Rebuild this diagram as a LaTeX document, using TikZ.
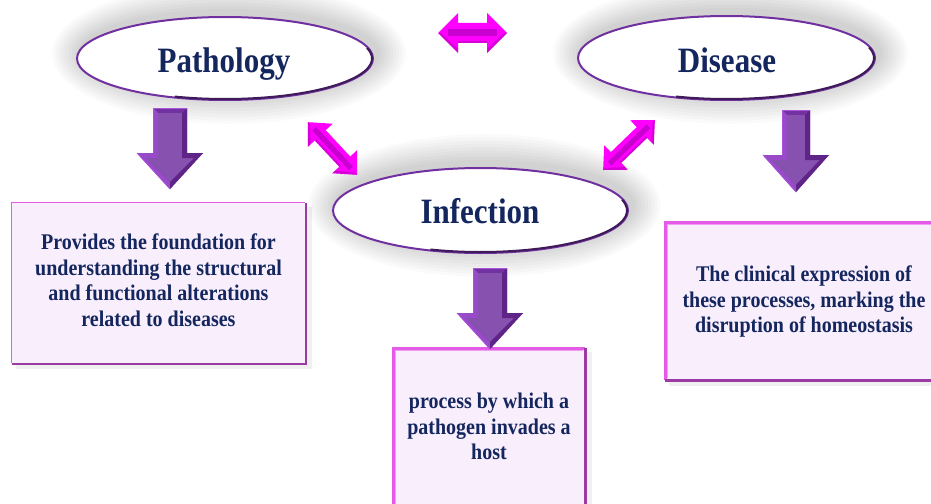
\documentclass[tikz,border=0pt]{standalone}
\usepackage{fontspec}
\usepackage{graphicx}
\setmainfont{Liberation Serif}
\usetikzlibrary{calc,shapes.geometric}
\definecolor{navy}{HTML}{14265E}
\definecolor{elline}{HTML}{7030A0}
\definecolor{boxfill}{HTML}{F9EEFC}
\definecolor{boxlight}{HTML}{E55BE8}
\definecolor{boxdark}{HTML}{9A3AA2}
\definecolor{arrpurple}{HTML}{7232A2}
\definecolor{arrlight}{HTML}{A855D8}
\definecolor{arrdark}{HTML}{5E2488}
\definecolor{mag}{HTML}{FF00FF}
\definecolor{magdark}{HTML}{C800D0}
\tikzset{
  ovalnode/.style={ellipse, fill=white, draw=elline, line width=2pt},
  titletext/.style={anchor=base, text=navy, font=\fontsize{31}{31}\selectfont\bfseries, inner sep=0pt},
  boxtext/.style={text=navy, font=\fontsize{20}{22.8}\selectfont\bfseries, inner sep=0pt, align=center},
  infobox/.style={rectangle, fill=boxfill, draw=none, inner sep=0pt},
}
\newcommand{\glowellipse}[3]{%
  \foreach \k in {1,...,9}{
    \fill[black, opacity=0.02] ($(#1)+(4pt,5pt)$) ellipse ({#2+\k*3.2pt} and {#3+\k*3.2pt});
  }}
% darker rim on lower right of an ellipse: cx, cy, rx, ry
\newcommand{\darkrim}[4]{%
  \draw[elline!55!black, line width=2pt] ({#1+#3*cos(15)},{#2-#4*sin(15)}) arc[start angle=15, end angle=-110, x radius=#3pt, y radius=#4pt];
}
\newcommand{\bevelbox}[4]{% x1,y1,x2,y2 (pixel coords, y down)
  \fill[black,opacity=0.06] (#1+4,#2+4) rectangle (#3+7,#4+6);
  \fill[boxfill] (#1,#2) rectangle (#3,#4);
  \draw[boxlight, line width=3pt] (#1,#4) -- (#1,#2) -- (#3,#2);
  \draw[boxdark, line width=3pt] (#3,#2) -- (#3,#4) -- (#1,#4);
  \draw[boxlight!60!white, line width=1pt] (#1+2.5,#4-2.5) -- (#1+2.5,#2+2.5) -- (#3-2.5,#2+2.5);
}
% down block arrow: cx, shaft half, head half, ytop, yhead, ytip
\newcommand{\blockdown}[6]{%
  \fill[arrpurple] (#1-#2,#4) -- (#1+#2,#4) -- (#1+#2,#5) -- (#1+#3,#5) -- (#1,#6) -- (#1-#3,#5) -- (#1-#2,#5) -- cycle;
  \fill[arrlight!70!arrpurple] (#1-#2,#4) -- (#1-#2+5,#4+5) -- (#1-#2+5,#5+5) -- (#1-#3+9,#5+5) -- (#1,#6-7) -- (#1,#6) -- (#1-#3,#5) -- (#1-#2,#5) -- cycle;
  \fill[arrpurple!85!white] (#1-#2+5,#4+5) -- (#1+#2-5,#4+5) -- (#1+#2-5,#5+5) -- (#1+#3-9,#5+5) -- (#1,#6-7) -- (#1-#3+9,#5+5) -- (#1-#2+5,#5+5) -- cycle;
  \fill[arrdark] (#1+#2,#4) -- (#1+#2,#5) -- (#1+#3,#5) -- (#1,#6) -- (#1,#6-7) -- (#1+#3-9,#5+5) -- (#1+#2-5,#5+5) -- (#1+#2-5,#4+5) -- cycle;
  \draw[arrlight, line width=0.8pt] (#1-#2,#5) -- (#1-#2,#4) -- (#1+#2,#4);
  \draw[arrlight, line width=0.8pt] (#1-#3,#5) -- (#1,#6);
}
% double block arrow centred at (cx,cy), rotated (canvas angle): half length, head length, head half, shaft half
\newcommand{\blockdouble}[7]{%
  \begin{scope}[shift={(#1,#2)}, rotate=#3]
    \fill[mag] (-#4,0) -- (-#4+#5,-#6) -- (-#4+#5,-#7) -- (#4-#5,-#7) -- (#4-#5,-#6) -- (#4,0) -- (#4-#5,#6) -- (#4-#5,#7) -- (-#4+#5,#7) -- (-#4+#5,#6) -- cycle;
    \fill[magdark] (-#4+#5*0.5,-#7*0.35) -- (#4-#5*0.5,-#7*0.35) -- (#4-#5*0.5,#7*0.35) -- (-#4+#5*0.5,#7*0.35) -- cycle;
    \fill[magdark!70!black, opacity=0.35] (-#4,0) -- (-#4+#5,#6) -- (-#4+#5,#7) -- (#4-#5,#7) -- (#4-#5,#6) -- (#4,0) -- (#4-3,0) -- (#4-#5,#6-4) -- (#4-#5,#7-2) -- (-#4+#5,#7-2) -- (-#4+#5,#6-4) -- (-#4+3,0) -- cycle;
  \end{scope}
}
\begin{document}
\begin{tikzpicture}[x=1pt, y=-1pt]
\useasboundingbox (0,0) rectangle (931,503);
\clip (0,0) rectangle (931,503);
\fill[white] (0,0) rectangle (931,503);

% glows
\coordinate (gp) at (225,58.5);
\coordinate (gd) at (726.5,58);
\coordinate (gi) at (480.5,210.5);
\glowellipse{gp}{148pt}{41.5pt}
\glowellipse{gd}{148.5pt}{42pt}
\glowellipse{gi}{147.5pt}{42.5pt}

% boxes
\bevelbox{12}{203}{305}{363}
\bevelbox{393}{348}{585}{515}
\bevelbox{665}{222}{945}{380}
\node[infobox, minimum width=293pt, minimum height=160pt] (pbox) at (158.5,283) {};
\node[infobox, minimum width=192pt, minimum height=167pt, fill=none] (ibox) at (489,431.5) {};
\node[infobox, minimum width=280pt, minimum height=158pt, fill=none] (dbox) at (805,301) {};

\node[boxtext] (ptext) at (158.5,283) {\scalebox{1}[1.12]{\begin{tabular}{@{}c@{}}Provides the foundation for\\ understanding the structural\\ and functional alterations\\ related to diseases\end{tabular}}};
\node[boxtext] (itext) at (489,429) {\scalebox{1}[1.12]{\begin{tabular}{@{}c@{}}process by which a\\ pathogen invades a\\ host\end{tabular}}};
\node[boxtext] (dtext) at (804,302) {\scalebox{1}[1.12]{\begin{tabular}{@{}c@{}}The clinical expression of\\ these processes, marking the\\ disruption of homeostasis\end{tabular}}};

% ellipses
\node[ovalnode, minimum width=296pt, minimum height=83pt] (path) at (225,58.5) {};
\node[ovalnode, minimum width=297pt, minimum height=84pt] (dis) at (726.5,58) {};
\node[ovalnode, minimum width=295pt, minimum height=85pt] (inf) at (480.5,210.5) {};
\darkrim{225}{58.5}{147}{40.5}
\darkrim{726.5}{58}{147.5}{41}
\darkrim{480.5}{210.5}{146.5}{41.5}

\node[titletext] (pathlbl) at (224,72) {\scalebox{1}[1.15]{Pathology}};
\node[titletext] (dislbl) at (727,72) {\scalebox{1}[1.15]{Disease}};
\node[titletext] (inflbl) at (480,223) {\scalebox{1}[1.15]{Infection}};

% down arrows
\blockdown{170}{17}{33}{108}{153}{189}
\blockdown{490}{17}{33}{268}{313}{349}
\blockdown{796}{14}{33}{110}{155}{192}

% double arrows
\blockdouble{472.5}{33}{0}{34.5}{20}{20}{10}
\blockdouble{332.5}{148.5}{-47}{36}{18}{17}{7.5}
\blockdouble{629}{145}{44}{36}{18}{17}{7.5}
\end{tikzpicture}
\end{document}
